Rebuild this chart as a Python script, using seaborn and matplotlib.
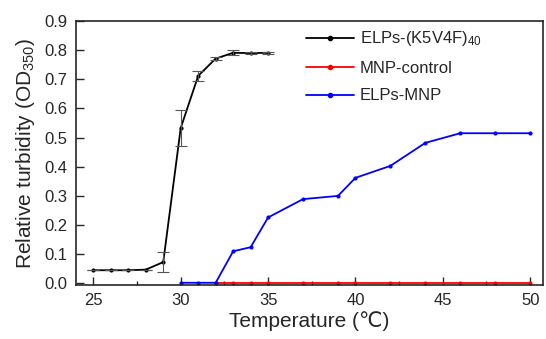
import pandas as pd
import matplotlib
matplotlib.use("Agg")
import matplotlib.pyplot as plt
import seaborn as sns
from matplotlib.ticker import MultipleLocator, FormatStrFormatter

# ELPs-(K5V4F)40
temp_elp = [25, 26, 27, 28, 29, 30, 31, 32, 33, 34, 35]
od_elp = [0.045, 0.045, 0.045, 0.047, 0.073, 0.533, 0.712, 0.771, 0.791, 0.790, 0.791]
err_elp = [0.0, 0.0, 0.0, 0.0, 0.035, 0.063, 0.018, 0.006, 0.008, 0.003, 0.004]

# MNP-control
temp_mnp = [32, 33, 34, 35, 37, 39, 40, 42, 44, 46, 48, 50]
od_mnp = [0.001] * 12

# ELPs-MNP
temp_elpmnp = [30, 31, 32, 33, 34, 35, 37, 39, 40, 42, 44, 46, 48, 50]
od_elpmnp = [0.002, 0.002, 0.002, 0.110, 0.124, 0.226, 0.289, 0.300, 0.362, 0.403, 0.482, 0.515, 0.515, 0.515]

labels = ["ELPs-(K5V4F)$_{40}$", "MNP-control", "ELPs-MNP"]
colors = ["black", "red", "blue"]

sns.set_style("ticks")
plt.rcParams["font.family"] = ["Liberation Sans", "DejaVu Sans"]
plt.rcParams["mathtext.fontset"] = "custom"
plt.rcParams["mathtext.rm"] = "Liberation Sans"
plt.rcParams["mathtext.it"] = "Liberation Sans"

df = pd.concat([
    pd.DataFrame({"T": temp_elp, "OD": od_elp, "s": labels[0]}),
    pd.DataFrame({"T": temp_mnp, "OD": od_mnp, "s": labels[1]}),
    pd.DataFrame({"T": temp_elpmnp, "OD": od_elpmnp, "s": labels[2]}),
])

fig = plt.figure(figsize=(5.46, 3.39), dpi=100)
ax = fig.add_axes([0.139, 0.159, 0.856, 0.779])

sns.lineplot(data=df, x="T", y="OD", hue="s", palette=dict(zip(labels, colors)),
             marker="o", markersize=3, markeredgewidth=0, linewidth=1.3,
             ax=ax, legend=False, estimator=None, sort=False)
ax.errorbar(temp_elp, od_elp, yerr=err_elp, fmt="none", ecolor="#555555",
            elinewidth=0.8, capsize=4, capthick=0.8)

for lab, col in zip(labels, colors):
    ax.plot([], [], color=col, marker="o", markersize=3, lw=1.3, label=lab)
ax.legend(loc="upper left", bbox_to_anchor=(0.46, 1.025), frameon=False,
          fontsize=12, handlelength=2.9, handletextpad=0.35, labelspacing=0.75)

ax.set_xlim(24, 50.75)
ax.set_ylim(-0.006, 0.9)
ax.xaxis.set_major_locator(MultipleLocator(5))
ax.xaxis.set_minor_locator(MultipleLocator(2.5))
ax.yaxis.set_major_locator(MultipleLocator(0.1))
ax.tick_params(which="major", direction="in", length=6, width=1, labelsize=12, pad=6)
ax.tick_params(which="minor", direction="in", length=3, width=1)
ax.yaxis.set_major_formatter(FormatStrFormatter("%.1f"))
for sp in ax.spines.values():
    sp.set_visible(True)
    sp.set_linewidth(1.2)

ax.set_xlabel("Temperature (℃)", fontsize=15, labelpad=2)
ax.set_ylabel("Relative turbidity (OD$_{350}$)", fontsize=15, labelpad=5)

fig.savefig("out.png", dpi=100)
